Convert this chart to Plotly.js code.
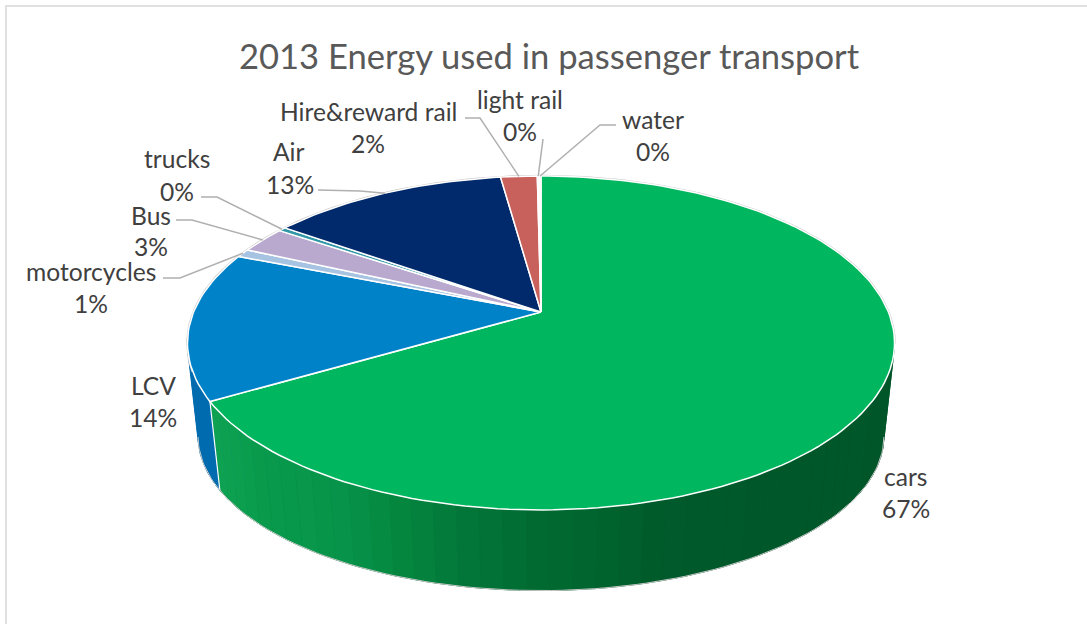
<!DOCTYPE html>
<html>
<head>
<meta charset="utf-8">
<script src="https://cdn.plot.ly/plotly-3.0.1.min.js"></script>
<style>html,body{margin:0;padding:0;background:#fff;overflow:hidden}#chart{width:1087px;height:624px}</style>
</head>
<body>
<div id="chart"></div>
<script>
// ---- data ----
const categories = ['cars','LCV','motorcycles','Bus','trucks','Air','Hire&reward rail','light rail','water'];
const shares     = [66.6, 14.4, 0.8, 2.6, 0.4, 13.0, 2.0, 0.1, 0.1];
const chartTitle = '2013 Energy used in passenger transport';

// ---- style ----
const sliceColors = ['#00b65e','#0082c8','#a6c3e2','#b9a9ce','#2f97a5','#002a6c','#c8605c','#ececec','#f2e6d8'];
const wallColorLCV = '#006bae';
const wallStops = [[219,[14,161,82]],[260,[9,154,76]],[340,[7,148,74]],[400,[5,134,63]],[470,[2,117,56]],
                   [540,[1,106,49]],[600,[0,100,46]],[660,[0,90,43]],[900,[0,86,41]]];
const textColor = '#404040', titleColor = '#595959', leaderColor = '#b0b0b0', frameColor = '#e0e0e0';
const labelFont = 'Lato, "Open Sans", sans-serif';

// ---- label layout (pixel-like axis units) ----
const namePos = [[906,476],[153,385],[91,271],[151,215],[177,158],[289,151],[368,111],[520,99],[653,119]];
const pctPos  = [[906,508],[153,417],[91,303],[151,246],[177,191],[290,184],[368,143],[520,131],[653,151]];
const leaderStart = [null,null,[163,278],[176,220],[201,197],[318,190],[465,118],[543,139],[616,125]];
const leaderElbow = [null,null,[180,278],[192,220],[217,197],[360,191],[480,118],[543,139],[600,125]];

// ---- perspective view of the pie: top disc and bottom disc ----
const persp = 0.1855;
const topDisc = {x0:541, y0:312,   A:161.2, B:347.4};
const botDisc = {x0:541, y0:407.4, A:149.2, B:337.0};
function project(d, deg){
  const t = deg*Math.PI/180, u = Math.sin(t), v = Math.cos(t), w = 1+persp*v;
  return [d.x0 + d.B*u/w, d.y0 - d.A*v/w];
}
function arc(d, a, b){
  const n = Math.max(2, Math.ceil(Math.abs(b-a)/1.5)), pts = [];
  for(let i=0;i<=n;i++) pts.push(project(d, a+(b-a)*i/n));
  return pts;
}
function wedge(d, a, b){
  const p = arc(d,a,b);
  return [[d.x0,d.y0]].concat(p,[[d.x0,d.y0]]);
}
function poly(pts, fill, lineColor, lineWidth){
  return {type:'scatter', mode:'lines', x:pts.map(p=>p[0]), y:pts.map(p=>p[1]), fill:'toself', fillcolor:fill,
          line:{color:lineColor, width:lineWidth}, hoverinfo:'skip', showlegend:false};
}
function path(pts, color, width){
  return {type:'scatter', mode:'lines', x:pts.map(p=>p[0]), y:pts.map(p=>p[1]),
          line:{color:color, width:width}, hoverinfo:'skip', showlegend:false};
}
function wallColor(x){
  let c = wallStops[wallStops.length-1][1];
  for(let i=0;i<wallStops.length-1;i++){
    const a = wallStops[i], b = wallStops[i+1];
    if(x<=a[0]){ c = a[1]; break; }
    if(x<b[0]){ const f=(x-a[0])/(b[0]-a[0]); c = a[1].map((v,k)=>Math.round(v+(b[1][k]-v)*f)); break; }
  }
  return 'rgb('+c.join(',')+')';
}
function quad(a,b){
  const q = [project(topDisc,a),project(topDisc,b),project(botDisc,b),project(botDisc,a)];
  q.push(q[0]);
  return q;
}

// ---- slice angles from the data ----
const total = shares.reduce((s,v)=>s+v,0);
const edges = [0];
shares.forEach(v=>edges.push(edges[edges.length-1]+v/total*360));
const mids = shares.map((v,i)=>(edges[i]+edges[i+1])/2);

const traces = [];
// bottom disc of the two slices that show a side wall
traces.push(poly(wedge(botDisc,edges[0],edges[1]),'rgb(0,86,41)','rgb(0,86,41)',0.5));
traces.push(poly(wedge(botDisc,edges[1],edges[2]),wallColorLCV,wallColorLCV,0.5));
// outer wall strips of the green slice
const stripStep = 3.2;
for(let a=70;a<edges[1];a+=stripStep){
  const b = Math.min(a+stripStep,edges[1]);
  const q = quad(a,b);
  const col = wallColor((q[0][0]+q[1][0])/2);
  traces.push(poly(q,col,col,0.6));
}
// outer wall strips of the LCV slice
for(let a=edges[1];a<edges[2]-5;a+=stripStep){
  traces.push(poly(quad(a,a+stripStep),wallColorLCV,wallColorLCV,0.6));
}
// wall seams and thin outlines
traces.push(path([project(topDisc,edges[1]),project(botDisc,edges[1])],'#ffffff',1.2));
traces.push(path(arc(botDisc,101,259),'#c9c9c9',1));
traces.push(path(arc(topDisc,edges[1]+10,461),'#c9c9c9',2.4));
// top faces
shares.forEach((v,i)=>{
  traces.push(poly(wedge(topDisc,edges[i],edges[i+1]),sliceColors[i],'#ffffff',1.5));
});
// leaders are anchored on each slice's rim
const shapes = [{type:'path', xref:'x', yref:'y', path:'M6,624 L6,6 L1087,6', line:{color:frameColor,width:2}}];
categories.forEach((c,i)=>{
  if(!leaderStart[i]) return;
  const end = project(topDisc,mids[i]);
  traces.push(path([leaderStart[i],leaderElbow[i],end],leaderColor,1.5));
});

const annotations = [];
categories.forEach((c,i)=>{
  const pct = Math.round(shares[i]/total*100)+'%';
  [[c,namePos[i]],[pct,pctPos[i]]].forEach(([t,p])=>{
    annotations.push({text:t, x:p[0], y:p[1], xref:'x', yref:'y', showarrow:false, xanchor:'center', yanchor:'middle',
                      font:{family:labelFont,size:24.6,color:textColor}});
  });
});

Plotly.newPlot('chart', traces, {
  width:1087, height:624, margin:{l:0,r:0,t:0,b:0}, paper_bgcolor:'#ffffff', plot_bgcolor:'#ffffff',
  showlegend:false, hovermode:false,
  title:{text:chartTitle, x:549/1087, xanchor:'center', xref:'paper', y:1-57/624, yanchor:'middle', yref:'container',
         font:{family:labelFont,size:34.6,color:titleColor}},
  xaxis:{range:[0,1087],visible:false,fixedrange:true},
  yaxis:{range:[624,0],visible:false,fixedrange:true},
  shapes:shapes, annotations:annotations
}, {displayModeBar:false, staticPlot:true});
</script>
</body>
</html>
